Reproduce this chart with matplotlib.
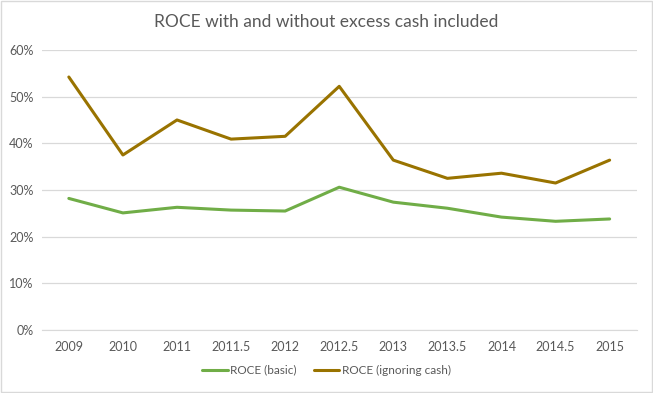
import matplotlib
matplotlib.use("Agg")
import matplotlib.pyplot as plt
from matplotlib.ticker import FuncFormatter

categories = ["2009", "2010", "2011", "2011.5", "2012", "2012.5", "2013", "2013.5", "2014", "2014.5", "2015"]
roce_basic = [28.2, 25.1, 26.3, 25.7, 25.5, 30.6, 27.4, 26.1, 24.2, 23.3, 23.8]
roce_ignoring_cash = [54.2, 37.5, 45.0, 40.9, 41.5, 52.2, 36.4, 32.5, 33.6, 31.5, 36.4]
yticks = [0, 10, 20, 30, 40, 50, 60]

plt.rcParams['font.family'] = ['Lato', 'DejaVu Sans']
txt = '#595959'

fig = plt.figure(figsize=(6.53, 3.93), dpi=100)
ax = fig.add_axes([0.064, 0.160, 0.911, 0.713])
x = list(range(len(categories)))
ax.plot(x, roce_basic, color='#70AD47', lw=2.2, label='ROCE (basic)', solid_capstyle='round')
ax.plot(x, roce_ignoring_cash, color='#997300', lw=2.2, label='ROCE (ignoring cash)', solid_capstyle='round')

ax.set_xlim(-0.5, len(categories) - 0.5)
ax.set_ylim(0, 60)
ax.set_yticks(yticks)
ax.yaxis.set_major_formatter(FuncFormatter(lambda v, p: f"{int(v)}%"))
ax.set_xticks(x)
ax.set_xticklabels(categories)
ax.grid(axis='y', color='#D9D9D9', lw=0.9)
ax.set_axisbelow(True)
for s in ['top', 'right', 'left']:
    ax.spines[s].set_visible(False)
ax.spines['bottom'].set_color('#D9D9D9')
ax.tick_params(axis='both', length=0, colors=txt, labelsize=9, pad=8)
ax.tick_params(axis='y', pad=6)

fig.text(0.5, 0.945, "ROCE with and without excess cash included", ha='center', va='center',
         fontsize=12.5, color=txt)
leg = fig.legend(loc='center', bbox_to_anchor=(0.5, 0.058), ncol=2, frameon=False,
                 fontsize=8.5, handlelength=2.2, handletextpad=0.25, columnspacing=1.4)
for t in leg.get_texts():
    t.set_color(txt)

border = plt.Rectangle((0.002, 0.003), 0.996, 0.994, transform=fig.transFigure, fill=False,
                       edgecolor='#D9D9D9', lw=1)
fig.patches.append(border)

fig.savefig("out.png", dpi=100)
